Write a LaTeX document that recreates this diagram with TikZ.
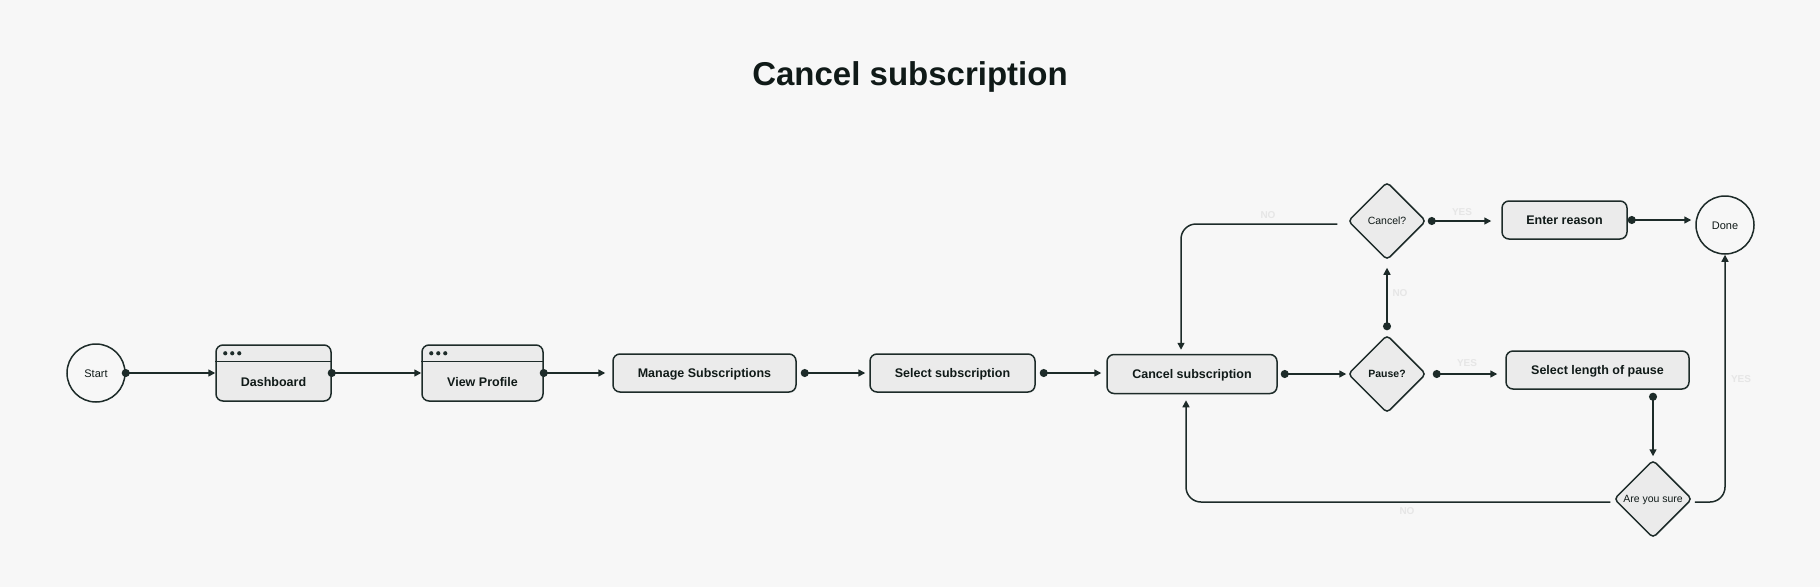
\documentclass[tikz,border=0pt]{standalone}
\usepackage{fontspec}
\setmainfont{Liberation Sans}
\usetikzlibrary{arrows.meta,shapes.geometric}
\definecolor{bg}{HTML}{F7F7F7}
\definecolor{fillc}{HTML}{EBEBEB}
\definecolor{lc}{HTML}{1D2B29}
\definecolor{txt}{HTML}{101A18}
\definecolor{lbl}{HTML}{E6E6E6}
\begin{document}
\begin{tikzpicture}[x=1pt,y=-1pt,
  box/.style={draw=lc,fill=fillc,line width=1.5pt,rounded corners=7pt,inner sep=0pt,text=txt,text height=9pt,text depth=0pt,font=\fontsize{12.5}{15}\selectfont\bfseries},
  btxt/.style={inner sep=0pt,text=txt,text height=9pt,text depth=0pt,font=\fontsize{12.5}{15}\selectfont\bfseries},
  circ/.style={circle,draw=lc,fill=bg,line width=1.5pt,minimum size=58pt,inner sep=0pt,text=txt,text height=8pt,text depth=0pt,font=\fontsize{11}{13}\selectfont},
  dia/.style={diamond,aspect=1,draw=lc,fill=fillc,line width=1.5pt,rounded corners=4pt,minimum width=78pt,minimum height=78pt,inner sep=0pt,text=txt,text height=7.5pt,text depth=0pt,font=\fontsize{10.5}{12}\selectfont},
  conn/.style={draw=lc,line width=1.5pt,{Circle[length=8pt]}-{Triangle[length=7pt,width=7pt]}},
  plainconn/.style={draw=lc,line width=1.5pt,-{Triangle[length=7pt,width=7pt]}},
  lab/.style={text=lbl,font=\fontsize{10}{12}\selectfont\bfseries,inner sep=0pt},
  hdot/.style={fill=lc},
]
\fill[bg] (0,0) rectangle (1820,587);
\useasboundingbox (0,0) rectangle (1820,587);

\node[font=\fontsize{33}{40}\selectfont\bfseries,text=txt] (title) at (910,77) {Cancel subscription};

% nodes
\node[circ] (start) at (96,373) {Start};
\node[box,minimum width=115pt,minimum height=56pt] (dash) at (273.5,373) {};
\node[box,minimum width=121pt,minimum height=56pt] (view) at (482.5,373) {};
\node[btxt] (dashtxt) at ([yshift=-9pt]dash.center) {Dashboard};
\node[btxt] (viewtxt) at ([yshift=-9pt]view.center) {View Profile};
\foreach \b in {dash,view}{
  \draw[lc,line width=1.2pt] ([yshift=-17pt]\b.north west) -- ([yshift=-17pt]\b.north east);
  \foreach \dx in {10,17,24}{
    \fill[hdot] ([xshift=\dx pt,yshift=-9pt]\b.north west) circle (2.1pt);
  }
}
\node[box,minimum width=183pt,minimum height=38pt] (manage) at (704.5,373) {Manage Subscriptions};
\node[box,minimum width=165pt,minimum height=38pt] (selsub) at (952.5,373) {Select subscription};
\node[box,minimum width=170pt,minimum height=39pt] (cansub) at (1192,374) {Cancel subscription};
\node[dia,font=\fontsize{10.5}{12}\selectfont\bfseries] (pause) at (1387,374) {Pause?};
\node[dia] (cancelq) at (1387,221) {Cancel?};
\node[box,minimum width=125pt,minimum height=38pt] (enter) at (1564.5,220) {Enter reason};
\node[circ] (done) at (1725,225) {Done};
\node[box,minimum width=183pt,minimum height=38pt] (sellen) at (1597.5,370) {Select length of pause};
\node[dia] (sure) at (1653,499) {Are you sure};

% connectors
\draw[conn] ([xshift=-4pt]start.east) -- (dash.west);
\draw[conn] ([xshift=-4pt]dash.east) -- (view.west);
\draw[conn] ([xshift=-4pt]view.east) -- ([xshift=-7pt]manage.west);
\draw[conn] ([xshift=4pt]manage.east) -- ([xshift=-4pt]selsub.west);
\draw[conn] ([xshift=4pt]selsub.east) -- ([xshift=-5pt]selsub.east -| cansub.west);
\draw[conn] ([xshift=3pt]cansub.east) -- ([xshift=-1pt]pause.west);
\draw[conn] ([xshift=6pt]pause.east) -- ([xshift=-8pt]pause.east -| sellen.west);
\draw[conn] ([yshift=4pt]pause.north) -- ([yshift=-7pt]cancelq.south);
\draw[conn] ([xshift=1pt]cancelq.east) -- ([xshift=-10pt]cancelq.east -| enter.west);
\draw[conn] (enter.east) -- ([xshift=-4pt]enter.east -| done.west);
\draw[conn] ([yshift=-3pt]sellen.south -| sure.north) -- ([yshift=3pt]sure.north);
\draw[plainconn,rounded corners=15pt] ([xshift=-10pt,yshift=-3pt]cancelq.west) -| ([xshift=-11pt,yshift=4pt]cansub.north);
\draw[plainconn,rounded corners=15pt] ([xshift=-3pt,yshift=-3pt]sure.west) -| ([xshift=-6pt,yshift=-6pt]cansub.south);
\draw[plainconn,rounded corners=15pt] ([xshift=2pt,yshift=-3pt]sure.east) -| (done.south);

% labels
\node[lab] (l1) at (1268,215) {NO};
\node[lab] (l2) at (1462,212) {YES};
\node[lab] (l3) at (1400,293) {NO};
\node[lab] (l4) at (1467,363) {YES};
\node[lab] (l5) at (1741,379) {YES};
\node[lab] (l6) at (1407,511) {NO};
\end{tikzpicture}
\end{document}
